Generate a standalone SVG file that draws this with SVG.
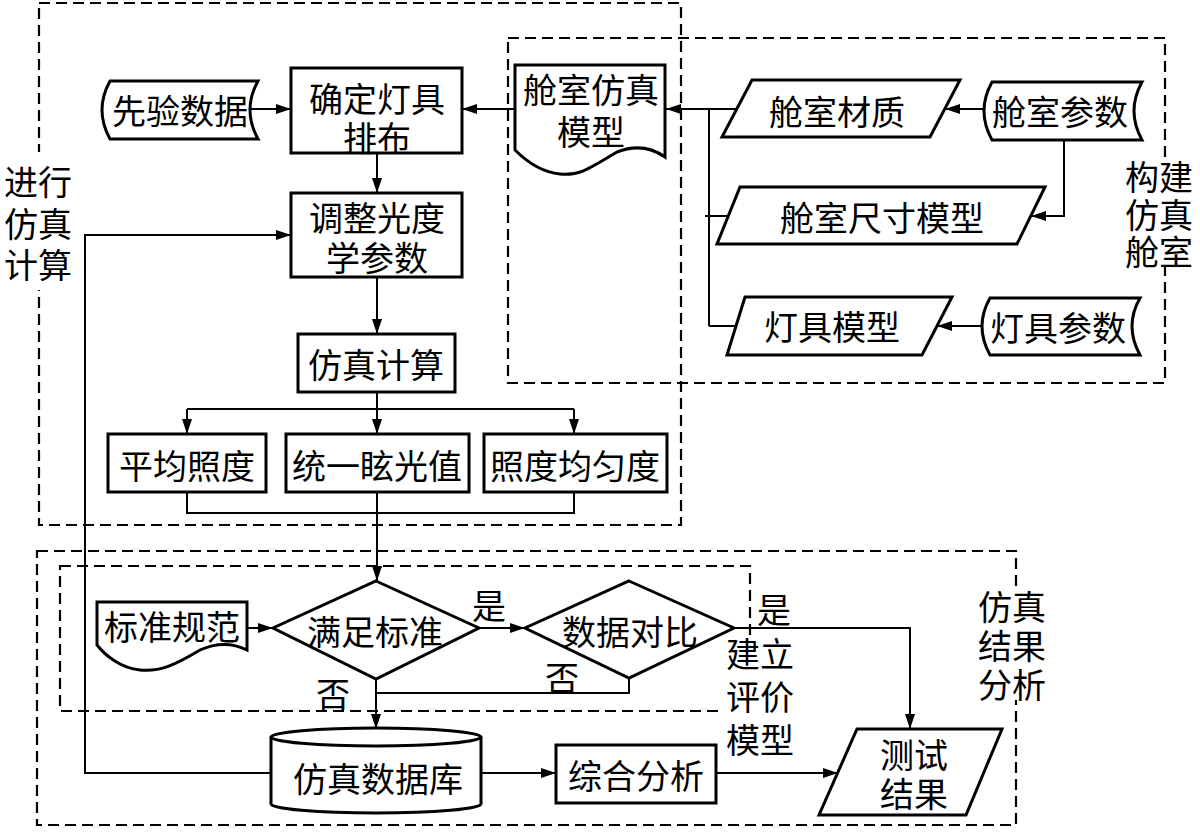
<svg xmlns="http://www.w3.org/2000/svg" width="1200" height="840" viewBox="0 0 1200 840">
<defs>
<style>
.box{fill:#fff;stroke:#000;stroke-width:3}
.dash{fill:none;stroke:#000;stroke-width:2.2;stroke-dasharray:11 6}
.ln{fill:none;stroke:#000;stroke-width:2}
.t{font-family:"Noto Sans CJK SC","Liberation Sans",sans-serif;font-size:34px;fill:#000;text-anchor:middle;dominant-baseline:central}
.t tspan{dominant-baseline:central}
.lb{fill:#fff;stroke:none}
</style>
<marker id="ar" markerUnits="userSpaceOnUse" markerWidth="15" markerHeight="10" refX="15" refY="5" orient="auto">
<path d="M0,0 L15,5 L0,10 Z" fill="#000"/>
</marker>
</defs>
<rect width="1200" height="840" fill="#fff"/>

<g id="groups">
<rect class="dash" x="39" y="3" width="642" height="522"/>
<rect class="dash" x="508" y="38" width="657" height="345"/>
<rect class="dash" x="37" y="551" width="979" height="274"/>
<rect class="dash" x="60" y="566" width="690" height="145"/>
<rect class="lb" x="2" y="152" width="72" height="138"/>
<text class="t"><tspan x="38" y="180">进行</tspan><tspan x="38" y="222">仿真</tspan><tspan x="38" y="263">计算</tspan></text>
<rect class="lb" x="1124" y="158" width="72" height="106"/>
<text class="t"><tspan x="1159" y="175">构建</tspan><tspan x="1159" y="213">仿真</tspan><tspan x="1159" y="250">舱室</tspan></text>
<rect class="lb" x="977" y="586" width="70" height="114"/>
<text class="t"><tspan x="1012" y="605">仿真</tspan><tspan x="1012" y="644">结果</tspan><tspan x="1012" y="683">分析</tspan></text>
<rect class="lb" x="724" y="638" width="70" height="118"/>
<text class="t"><tspan x="760" y="652">建立</tspan><tspan x="760" y="695">评价</tspan><tspan x="760" y="738">模型</tspan></text>
</g>

<g id="connectors">
<path class="ln" d="M250,109 L291,109" marker-end="url(#ar)"/>
<path class="ln" d="M515,109 L462,109" marker-end="url(#ar)"/>
<path class="ln" d="M737,109 L666,109" marker-end="url(#ar)"/>
<path class="ln" d="M709,109 L709,326"/>
<path class="ln" d="M705,216 L728,216"/>
<path class="ln" d="M709,326 L736,326"/>
<path class="ln" d="M985,109 L945,109" marker-end="url(#ar)"/>
<path class="ln" d="M1064,140 L1064,216 L1031,216" marker-end="url(#ar)"/>
<path class="ln" d="M983,326 L937,326" marker-end="url(#ar)"/>
<path class="ln" d="M377,153 L377,193" marker-end="url(#ar)"/>
<path class="ln" d="M377,277 L377,334" marker-end="url(#ar)"/>
<path class="ln" d="M377,392 L377,434" marker-end="url(#ar)"/>
<path class="ln" d="M187,409 L574,409"/>
<path class="ln" d="M187,409 L187,434" marker-end="url(#ar)"/>
<path class="ln" d="M574,409 L574,434" marker-end="url(#ar)"/>
<path class="ln" d="M187,492 L187,513 L574,513 L574,492"/>
<path class="ln" d="M377,492 L377,581" marker-end="url(#ar)"/>
<path class="ln" d="M247,628 L273,628" marker-end="url(#ar)"/>
<path class="ln" d="M479,628 L525,628" marker-end="url(#ar)"/>
<path class="ln" d="M376,679 L376,729" marker-end="url(#ar)"/>
<path class="ln" d="M629,678 L629,693 L376,693"/>
<path class="ln" d="M734,628 L910,628 L910,729" marker-end="url(#ar)"/>
<path class="ln" d="M481,773 L556,773" marker-end="url(#ar)"/>
<path class="ln" d="M716,773 L838,773" marker-end="url(#ar)"/>
<path class="ln" d="M271,773 L85,773 L85,235 L291,235" marker-end="url(#ar)"/>
<text class="t" x="489" y="604">是</text>
<text class="t" x="333" y="692">否</text>
<text class="t" x="562" y="676">否</text>
<text class="t" x="774" y="608">是</text>
</g>

<g id="n-xianyan">
<path class="box" d="M110,81 L258,81 Q242,110 258,139 L110,139 Q94,110 110,81 Z"/>
<text class="t" x="180" y="109">先验数据</text>
</g>
<g id="n-queding">
<rect class="box" x="291" y="68" width="171" height="85"/>
<text class="t"><tspan x="377" y="97">确定灯具</tspan><tspan x="377" y="136">排布</tspan></text>
</g>
<g id="n-tiaozheng">
<rect class="box" x="291" y="193" width="171" height="84"/>
<text class="t"><tspan x="377" y="216">调整光度</tspan><tspan x="377" y="256">学参数</tspan></text>
</g>
<g id="n-cangshi-model">
<path class="box" d="M515,65 L665,65 L665,157 C655,150 640,143 617,152 C590,168 580,176 560,174 C540,172 525,160 515,150 Z"/>
<text class="t"><tspan x="591" y="88">舱室仿真</tspan><tspan x="591" y="130">模型</tspan></text>
</g>
<g id="n-caizhi">
<path class="box" d="M752,80 L960,80 L930,137 L722,137 Z"/>
<text class="t" x="837" y="110">舱室材质</text>
</g>
<g id="n-cangshi-param">
<path class="box" d="M992,82 L1142,82 Q1126,111 1142,140 L992,140 Q976,111 992,82 Z"/>
<text class="t" x="1060" y="110">舱室参数</text>
</g>
<g id="n-chicun">
<path class="box" d="M740,187 L1045,187 L1017,244 L717,244 Z"/>
<text class="t" x="882" y="216">舱室尺寸模型</text>
</g>
<g id="n-dengju-model">
<path class="box" d="M745,297 L952,297 L922,355 L727,355 Z"/>
<text class="t" x="832" y="325">灯具模型</text>
</g>
<g id="n-dengju-param">
<path class="box" d="M990,298 L1140,298 Q1124,326 1140,355 L990,355 Q974,326 990,298 Z"/>
<text class="t" x="1058" y="326">灯具参数</text>
</g>
<g id="n-fangzhen">
<rect class="box" x="298" y="334" width="157" height="58"/>
<text class="t" x="376" y="363">仿真计算</text>
</g>
<g id="n-pingjun">
<rect class="box" x="108" y="434" width="158" height="58"/>
<text class="t" x="187" y="464">平均照度</text>
</g>
<g id="n-tongyi">
<rect class="box" x="286" y="434" width="183" height="58"/>
<text class="t" x="377" y="464">统一眩光值</text>
</g>
<g id="n-junyun">
<rect class="box" x="484" y="434" width="183" height="58"/>
<text class="t" x="575" y="464">照度均匀度</text>
</g>
<g id="n-biaozhun">
<path class="box" d="M97,602 L247,602 L247,650 C237,645 222,640 200,650 C175,665 160,672 140,670 C120,668 105,655 97,645 Z"/>
<text class="t" x="172" y="625">标准规范</text>
</g>
<g id="n-manzu">
<path class="box" d="M376,581 L479,628 L376,679 L273,628 Z"/>
<text class="t" x="375" y="630">满足标准</text>
</g>
<g id="n-duibi">
<path class="box" d="M629,581 L734,628 L629,678 L525,628 Z"/>
<text class="t" x="630" y="630">数据对比</text>
</g>
<g id="n-db">
<path class="box" d="M271,737 L271,804 A105,9 0 0 0 481,804 L481,737 A105,9 0 0 0 271,737 Z"/>
<path class="box" d="M271,737 A105,9 0 0 0 481,737" fill="none"/>
<text class="t" x="378" y="777">仿真数据库</text>
</g>
<g id="n-zonghe">
<rect class="box" x="556" y="745" width="160" height="58"/>
<text class="t" x="636" y="774">综合分析</text>
</g>
<g id="n-ceshi">
<path class="box" d="M857,729 L1002,729 L966,815 L819,815 Z"/>
<text class="t"><tspan x="914" y="753">测试</tspan><tspan x="914" y="792">结果</tspan></text>
</g>
</svg>
